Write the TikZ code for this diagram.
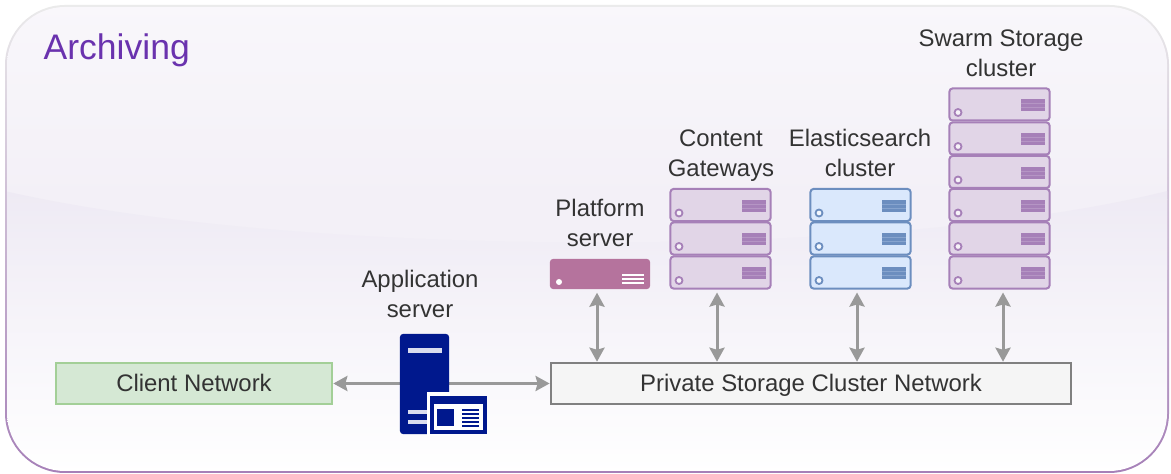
\documentclass[tikz,border=0pt]{standalone}
\usepackage{fontspec}
\setmainfont{Liberation Sans}
\usetikzlibrary{arrows.meta}
\definecolor{sgrey}{HTML}{999999}
\definecolor{appblue}{HTML}{00188D}
\definecolor{ViolA}{HTML}{A680B8}
\definecolor{ViolB}{HTML}{E1D5E7}
\definecolor{BlueA}{HTML}{6C8EBF}
\definecolor{BlueB}{HTML}{DAE8FC}
\definecolor{platc}{HTML}{B5739D}
\definecolor{titlec}{HTML}{6A32AE}
\definecolor{greenA}{HTML}{A3CF97}
\definecolor{greenB}{HTML}{D5E8D4}
\definecolor{glassA}{HTML}{F9F7FB}
\definecolor{glassB}{HTML}{F3F0F7}
\definecolor{glassC}{HTML}{EEEAF4}
\begin{document}
\begin{tikzpicture}[x=0.01cm,y=-0.01cm]
	\tikzstyle{unit} = [rectangle, line width=0.02cm, rounded corners=0.03cm, minimum width=1cm, minimum height=0.32cm, inner sep=0pt]
	\tikzstyle{label} = [align=center, font=\fontsize{6.8}{8.5}\selectfont, text=black!80]
	\tikzstyle{net} = [rectangle, line width=0.025cm, minimum height=0.41cm, inner sep=0pt, text height=0.2cm, text depth=0.04cm, font=\fontsize{6.8}{8.5}\selectfont, text=black!80]
	\tikzstyle{garrow} = [draw=sgrey, line width=0.03cm, {Stealth[length=0.14cm,width=0.15cm,inset=0.02cm]}-{Stealth[length=0.14cm,width=0.15cm,inset=0.02cm]}]
	\useasboundingbox (0,0) rectangle (1171,474);
	% panel
	\shade [rounded corners=0.6cm, top color=black!8, middle color=black!6!ViolB, bottom color=ViolA] (5,5) rectangle (1169,473);
	\begin{scope}
		\clip [rounded corners=0.58cm] (7,7) rectangle (1167,471);
		\shade [top color=glassA, bottom color=glassB] (0,0) rectangle (1171,200);
		\fill [glassB] (0,199) rectangle (1171,270);
		\shade [top color=glassC, bottom color=white] (0,190) .. controls (300,260) and (900,260) .. (1171,190) -- (1171,474) -- (0,474) -- cycle;
	\end{scope}
	\node [text=titlec, font=\fontsize{10.1}{12}\selectfont, anchor=west, inner sep=0pt] (title) at (43,50) {Archiving};
	% server stacks
	\foreach \n/\px/\py/\col/\bg in {cg1/720.5/205/ViolA/ViolB, cg2/720.5/238.5/ViolA/ViolB, cg3/720.5/272.5/ViolA/ViolB,
		es1/860.5/205/BlueA/BlueB, es2/860.5/238.5/BlueA/BlueB, es3/860.5/272.5/BlueA/BlueB,
		sw1/999.5/104.5/ViolA/ViolB, sw2/999.5/138.5/ViolA/ViolB, sw3/999.5/172/ViolA/ViolB,
		sw4/999.5/205/ViolA/ViolB, sw5/999.5/238.5/ViolA/ViolB, sw6/999.5/272.5/ViolA/ViolB} {
		\node [unit, draw=\col, fill=\bg] (\n) at (\px,\py) {};
		\draw [draw=\col, fill=\bg!30, line width=0.018cm] (\px-41.5,\py+8) circle (0.035cm);
		\fill [\col] (\px+21,\py-5) rectangle (\px+45,\py+7);
		\foreach \k in {-2,2} \draw [\bg!25!\col, line width=0.005cm] (\px+21,\py+1+\k) -- (\px+45,\py+1+\k);
	}
	% platform server
	\node [rectangle, fill=platc, rounded corners=0.03cm, minimum width=1cm, minimum height=0.3cm, inner sep=0pt] (pf) at (600,274) {};
	\fill [white] (559,282) circle (0.03cm);
	\foreach \k in {275,279,283} \draw [white, line width=0.012cm] (622,\k) -- (644,\k);
	% networks
	\node [net, draw=black!50, fill=black!4, minimum width=5.2cm] (privnet) at (811,383.5) {Private Storage Cluster Network};
	\node [net, draw=greenA, fill=greenB, minimum width=2.76cm] (client) at (194,383.5) {Client Network};
	% connectors
	\draw [garrow] (client) -- (privnet);
	\foreach \a/\d in {pf/-3,cg3/-3.5,es3/-3.5,sw6/3.5}
		\draw [garrow] ([xshift=\d*0.01cm,yshift=-0.03cm]\a.south) -- ([xshift=\d*0.01cm]\a.south |- privnet.north);
	% application server
	\node [rectangle, fill=appblue, minimum width=0.49cm, minimum height=1cm, rounded corners=0.03cm, inner sep=0pt] (app) at (424.5,384) {};
	\fill [white] (427,392) rectangle (450,436);
	\fill [appblue] (430,396) rectangle (487,434);
	\fill [white] (434,404) rectangle (483,430);
	\fill [appblue] (437,409) rectangle (454,426);
	\foreach \k in {410,414,418,422,426} \draw [appblue, line width=0.012cm] (462,\k) -- (479,\k);
	\fill [white!85!appblue] (408,348) rectangle (442,353);
	\foreach \k in {412,422} \fill [white!85!appblue] (408,\k-2) rectangle (427,\k+2);
	% labels
	\node [label] (applabel) at (420,294) {Application\\server};
	\node [label] (pflabel) at (600,223) {Platform\\server};
	\node [label] (cglabel) at (721,156) {Content\\Gateways};
	\node [label] (eslabel) at (860,153) {Elasticsearch\\cluster};
	\node [label] (swlabel) at (1001,53) {Swarm Storage\\cluster};
\end{tikzpicture}
\end{document}
